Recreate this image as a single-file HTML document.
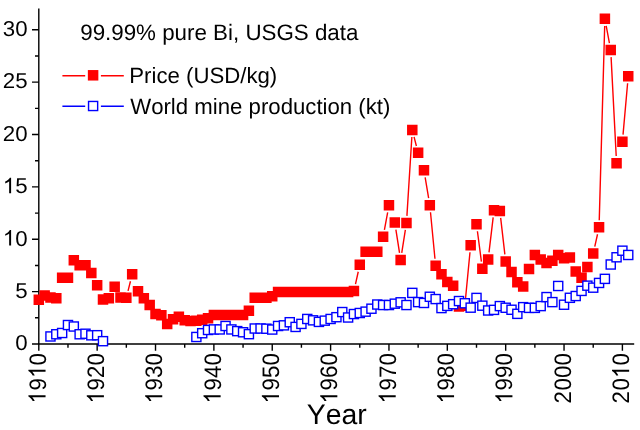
<!DOCTYPE html>
<html><head><meta charset="utf-8"><title>Bismuth price and production</title>
<style>
html,body{margin:0;padding:0;background:#fff;}
svg{display:block;font-family:"Liberation Sans",sans-serif;}
text{fill:#000;text-rendering:geometricPrecision;font-kerning:none;}
svg{-webkit-font-smoothing:antialiased;}
</style></head><body>
<svg width="640" height="430" viewBox="0 0 640 430">
<rect width="640" height="430" fill="#fff"/>
<path d="M38.8 8.4V344.0M32 344.0H634.2" stroke="#000" stroke-width="1.4" fill="none"/>
<path d="M32 291.63H38.8M32 239.27H38.8M32 186.91H38.8M32 134.54H38.8M32 82.17H38.8M32 29.81H38.8M35 317.82H38.8M35 265.45H38.8M35 213.09H38.8M35 160.72H38.8M35 108.36H38.8M35 55.99H38.8M38.80 344.0V350.8M97.16 344.0V350.8M155.52 344.0V350.8M213.88 344.0V350.8M272.24 344.0V350.8M330.60 344.0V350.8M388.96 344.0V350.8M447.32 344.0V350.8M505.68 344.0V350.8M564.04 344.0V350.8M622.40 344.0V350.8M67.98 344.0V347.8M126.34 344.0V347.8M184.70 344.0V347.8M243.06 344.0V347.8M301.42 344.0V347.8M359.78 344.0V347.8M418.14 344.0V347.8M476.50 344.0V347.8M534.86 344.0V347.8M593.22 344.0V347.8" stroke="#000" stroke-width="1.4" fill="none"/>
<g opacity="0.999">
<g transform="translate(27.60,350.30) scale(1,0.967)" font-size="22.3"><text x="-12.40" y="0">0</text></g>
<g transform="translate(27.60,297.94) scale(1,0.967)" font-size="22.3"><text x="-12.40" y="0">5</text></g>
<g transform="translate(27.60,245.57) scale(1,0.967)" font-size="22.3"><path transform="translate(-24.80,0) scale(0.01089,-0.01089)" d="M763 0H583V1147Q518 1085 412.5 1023T223 930V1104Q374 1175 487 1276T647 1472H763Z"/><text x="-12.40" y="0">0</text></g>
<g transform="translate(27.60,193.21) scale(1,0.967)" font-size="22.3"><path transform="translate(-24.80,0) scale(0.01089,-0.01089)" d="M763 0H583V1147Q518 1085 412.5 1023T223 930V1104Q374 1175 487 1276T647 1472H763Z"/><text x="-12.40" y="0">5</text></g>
<g transform="translate(27.60,140.84) scale(1,0.967)" font-size="22.3"><text x="-24.80" y="0">2</text><text x="-12.40" y="0">0</text></g>
<g transform="translate(27.60,88.47) scale(1,0.967)" font-size="22.3"><text x="-24.80" y="0">2</text><text x="-12.40" y="0">5</text></g>
<g transform="translate(27.60,36.11) scale(1,0.967)" font-size="22.3"><text x="-24.80" y="0">3</text><text x="-12.40" y="0">0</text></g>
<g transform="translate(45.55,402.80) rotate(-90) scale(1,1.07)" font-size="22.3"><path transform="translate(-0.70,0) scale(0.01089,-0.01089)" d="M763 0H583V1147Q518 1085 412.5 1023T223 930V1104Q374 1175 487 1276T647 1472H763Z"/><text x="12.40" y="0">9</text><path transform="translate(24.80,0) scale(0.01089,-0.01089)" d="M763 0H583V1147Q518 1085 412.5 1023T223 930V1104Q374 1175 487 1276T647 1472H763Z"/><text x="37.21" y="0">0</text></g>
<g transform="translate(103.91,402.80) rotate(-90) scale(1,1.07)" font-size="22.3"><path transform="translate(-0.70,0) scale(0.01089,-0.01089)" d="M763 0H583V1147Q518 1085 412.5 1023T223 930V1104Q374 1175 487 1276T647 1472H763Z"/><text x="12.40" y="0">9</text><text x="24.80" y="0">2</text><text x="37.21" y="0">0</text></g>
<g transform="translate(162.27,402.80) rotate(-90) scale(1,1.07)" font-size="22.3"><path transform="translate(-0.70,0) scale(0.01089,-0.01089)" d="M763 0H583V1147Q518 1085 412.5 1023T223 930V1104Q374 1175 487 1276T647 1472H763Z"/><text x="12.40" y="0">9</text><text x="24.80" y="0">3</text><text x="37.21" y="0">0</text></g>
<g transform="translate(220.63,402.80) rotate(-90) scale(1,1.07)" font-size="22.3"><path transform="translate(-0.70,0) scale(0.01089,-0.01089)" d="M763 0H583V1147Q518 1085 412.5 1023T223 930V1104Q374 1175 487 1276T647 1472H763Z"/><text x="12.40" y="0">9</text><text x="24.80" y="0">4</text><text x="37.21" y="0">0</text></g>
<g transform="translate(278.99,402.80) rotate(-90) scale(1,1.07)" font-size="22.3"><path transform="translate(-0.70,0) scale(0.01089,-0.01089)" d="M763 0H583V1147Q518 1085 412.5 1023T223 930V1104Q374 1175 487 1276T647 1472H763Z"/><text x="12.40" y="0">9</text><text x="24.80" y="0">5</text><text x="37.21" y="0">0</text></g>
<g transform="translate(337.35,402.80) rotate(-90) scale(1,1.07)" font-size="22.3"><path transform="translate(-0.70,0) scale(0.01089,-0.01089)" d="M763 0H583V1147Q518 1085 412.5 1023T223 930V1104Q374 1175 487 1276T647 1472H763Z"/><text x="12.40" y="0">9</text><text x="24.80" y="0">6</text><text x="37.21" y="0">0</text></g>
<g transform="translate(395.71,402.80) rotate(-90) scale(1,1.07)" font-size="22.3"><path transform="translate(-0.70,0) scale(0.01089,-0.01089)" d="M763 0H583V1147Q518 1085 412.5 1023T223 930V1104Q374 1175 487 1276T647 1472H763Z"/><text x="12.40" y="0">9</text><text x="24.80" y="0">7</text><text x="37.21" y="0">0</text></g>
<g transform="translate(454.07,402.80) rotate(-90) scale(1,1.07)" font-size="22.3"><path transform="translate(-0.70,0) scale(0.01089,-0.01089)" d="M763 0H583V1147Q518 1085 412.5 1023T223 930V1104Q374 1175 487 1276T647 1472H763Z"/><text x="12.40" y="0">9</text><text x="24.80" y="0">8</text><text x="37.21" y="0">0</text></g>
<g transform="translate(512.43,402.80) rotate(-90) scale(1,1.07)" font-size="22.3"><path transform="translate(-0.70,0) scale(0.01089,-0.01089)" d="M763 0H583V1147Q518 1085 412.5 1023T223 930V1104Q374 1175 487 1276T647 1472H763Z"/><text x="12.40" y="0">9</text><text x="24.80" y="0">9</text><text x="37.21" y="0">0</text></g>
<g transform="translate(570.79,402.80) rotate(-90) scale(1,1.07)" font-size="22.3"><text x="-0.70" y="0">2</text><text x="12.40" y="0">0</text><text x="24.80" y="0">0</text><text x="37.21" y="0">0</text></g>
<g transform="translate(629.15,402.80) rotate(-90) scale(1,1.07)" font-size="22.3"><text x="-0.70" y="0">2</text><text x="12.40" y="0">0</text><path transform="translate(24.80,0) scale(0.01089,-0.01089)" d="M763 0H583V1147Q518 1085 412.5 1023T223 930V1104Q374 1175 487 1276T647 1472H763Z"/><text x="37.21" y="0">0</text></g>
<text transform="translate(306.80,423.60) scale(1,1.0)" text-anchor="start" font-size="28.4">Year</text>
<text transform="translate(80.20,40.30) scale(1,1.0)" text-anchor="start" font-size="22.35">99.99% pure Bi, USGS data</text>
<text transform="translate(129.30,83.00) scale(1,1.0)" text-anchor="start" font-size="22.2">Price (USD/kg)</text>
<text transform="translate(130.20,113.50) scale(1,1.0)" text-anchor="start" font-size="22.2">World mine production (kt)</text>
</g>
<path d="M62.4 75.7H85.2M100.9 75.7H123.8" stroke="#f00" stroke-width="1.4"/>
<rect x="87.85" y="70.05" width="10.5" height="10.5" fill="#f00"/>
<path d="M62.4 106.3H85.2M100.9 106.3H123.8" stroke="#00f" stroke-width="1.4"/>
<rect x="88.55" y="101.45" width="9.1" height="9.1" fill="#fff" stroke="#00f" stroke-width="1.4"/>
<path d="M128.05 290.92L130.46 281.24M355.48 284.18L358.24 271.76M384.42 229.78L387.66 212.32M395.89 229.53L399.54 252.89M401.74 252.89L405.36 229.95M406.91 215.85L411.86 137.02M414.05 136.81L416.39 145.99M425.15 177.36L428.64 198.23M430.49 212.30L434.97 258.70M465.51 298.71L469.98 252.20M477.42 231.23L481.41 261.66M489.01 252.43L493.17 217.41M500.66 217.94L504.87 254.42M594.76 246.69L597.52 234.26M599.25 220.23L604.69 25.91M606.20 25.79L609.42 43.04M611.09 57.11L616.20 156.04M623.03 134.59L627.61 83.28" stroke="#f00" stroke-width="1.4" fill="none"/>
<path d="M33.55 294.55h10.5v10.5h-10.5zM39.39 290.16h10.5v10.5h-10.5zM45.22 292.15h10.5v10.5h-10.5zM51.06 293.09h10.5v10.5h-10.5zM56.89 272.46h10.5v10.5h-10.5zM62.73 272.46h10.5v10.5h-10.5zM68.57 255.07h10.5v10.5h-10.5zM74.40 260.10h10.5v10.5h-10.5zM80.24 260.10h10.5v10.5h-10.5zM86.07 267.85h10.5v10.5h-10.5zM91.91 280.10h10.5v10.5h-10.5zM97.75 294.14h10.5v10.5h-10.5zM103.58 293.09h10.5v10.5h-10.5zM109.42 281.46h10.5v10.5h-10.5zM115.25 292.15h10.5v10.5h-10.5zM121.09 292.56h10.5v10.5h-10.5zM126.93 269.10h10.5v10.5h-10.5zM132.76 286.07h10.5v10.5h-10.5zM138.60 293.09h10.5v10.5h-10.5zM144.43 299.79h10.5v10.5h-10.5zM150.27 308.69h10.5v10.5h-10.5zM156.11 309.95h10.5v10.5h-10.5zM161.94 318.64h10.5v10.5h-10.5zM167.78 314.03h10.5v10.5h-10.5zM173.61 311.52h10.5v10.5h-10.5zM179.45 314.98h10.5v10.5h-10.5zM185.29 315.81h10.5v10.5h-10.5zM191.12 315.50h10.5v10.5h-10.5zM196.96 314.56h10.5v10.5h-10.5zM202.79 313.09h10.5v10.5h-10.5zM208.63 309.84h10.5v10.5h-10.5zM214.47 309.84h10.5v10.5h-10.5zM220.30 309.84h10.5v10.5h-10.5zM226.14 309.84h10.5v10.5h-10.5zM231.97 309.84h10.5v10.5h-10.5zM237.81 309.84h10.5v10.5h-10.5zM243.65 305.55h10.5v10.5h-10.5zM249.48 292.56h10.5v10.5h-10.5zM255.32 292.56h10.5v10.5h-10.5zM261.15 292.56h10.5v10.5h-10.5zM266.99 291.10h10.5v10.5h-10.5zM272.83 286.80h10.5v10.5h-10.5zM278.66 286.80h10.5v10.5h-10.5zM284.50 286.80h10.5v10.5h-10.5zM290.33 286.80h10.5v10.5h-10.5zM296.17 286.80h10.5v10.5h-10.5zM302.01 286.80h10.5v10.5h-10.5zM307.84 286.80h10.5v10.5h-10.5zM313.68 286.80h10.5v10.5h-10.5zM319.51 286.80h10.5v10.5h-10.5zM325.35 286.80h10.5v10.5h-10.5zM331.19 286.80h10.5v10.5h-10.5zM337.02 286.80h10.5v10.5h-10.5zM342.86 286.80h10.5v10.5h-10.5zM348.69 285.86h10.5v10.5h-10.5zM354.53 259.57h10.5v10.5h-10.5zM360.37 246.38h10.5v10.5h-10.5zM366.20 246.38h10.5v10.5h-10.5zM372.04 246.38h10.5v10.5h-10.5zM377.87 231.51h10.5v10.5h-10.5zM383.71 200.09h10.5v10.5h-10.5zM389.55 217.26h10.5v10.5h-10.5zM395.38 254.65h10.5v10.5h-10.5zM401.22 217.68h10.5v10.5h-10.5zM407.05 124.68h10.5v10.5h-10.5zM412.89 147.62h10.5v10.5h-10.5zM418.73 165.11h10.5v10.5h-10.5zM424.56 199.98h10.5v10.5h-10.5zM430.40 260.52h10.5v10.5h-10.5zM436.23 269.10h10.5v10.5h-10.5zM442.07 276.85h10.5v10.5h-10.5zM447.91 280.52h10.5v10.5h-10.5zM453.74 301.26h10.5v10.5h-10.5zM459.58 300.52h10.5v10.5h-10.5zM465.41 239.88h10.5v10.5h-10.5zM471.25 218.94h10.5v10.5h-10.5zM477.09 263.45h10.5v10.5h-10.5zM482.92 254.23h10.5v10.5h-10.5zM488.76 205.11h10.5v10.5h-10.5zM494.59 205.64h10.5v10.5h-10.5zM500.43 256.22h10.5v10.5h-10.5zM506.27 266.80h10.5v10.5h-10.5zM512.10 276.96h10.5v10.5h-10.5zM517.94 281.15h10.5v10.5h-10.5zM523.77 263.66h10.5v10.5h-10.5zM529.61 249.73h10.5v10.5h-10.5zM535.45 254.23h10.5v10.5h-10.5zM541.28 257.69h10.5v10.5h-10.5zM547.12 255.49h10.5v10.5h-10.5zM552.95 249.73h10.5v10.5h-10.5zM558.79 252.98h10.5v10.5h-10.5zM564.63 252.24h10.5v10.5h-10.5zM570.46 266.28h10.5v10.5h-10.5zM576.30 272.56h10.5v10.5h-10.5zM582.13 261.77h10.5v10.5h-10.5zM587.97 248.37h10.5v10.5h-10.5zM593.81 222.08h10.5v10.5h-10.5zM599.64 13.56h10.5v10.5h-10.5zM605.48 44.77h10.5v10.5h-10.5zM611.31 157.88h10.5v10.5h-10.5zM617.15 136.41h10.5v10.5h-10.5zM622.99 70.96h10.5v10.5h-10.5z" fill="#f00"/>
<path d="" stroke="#00f" stroke-width="1.4" fill="none"/>
<path d="" stroke="#00f" stroke-width="1.4" fill="none"/>
<g fill="#fff" stroke="#00f" stroke-width="1.4">
<rect x="45.92" y="331.91" width="9.1" height="9.1"/>
<rect x="51.76" y="329.71" width="9.1" height="9.1"/>
<rect x="57.59" y="328.45" width="9.1" height="9.1"/>
<rect x="63.43" y="320.49" width="9.1" height="9.1"/>
<rect x="69.27" y="321.96" width="9.1" height="9.1"/>
<rect x="75.10" y="329.71" width="9.1" height="9.1"/>
<rect x="80.94" y="329.19" width="9.1" height="9.1"/>
<rect x="86.77" y="330.76" width="9.1" height="9.1"/>
<rect x="92.61" y="330.65" width="9.1" height="9.1"/>
<rect x="98.45" y="336.62" width="9.1" height="9.1"/>
<rect x="191.82" y="332.43" width="9.1" height="9.1"/>
<rect x="197.66" y="328.66" width="9.1" height="9.1"/>
<rect x="203.49" y="325.42" width="9.1" height="9.1"/>
<rect x="209.33" y="324.89" width="9.1" height="9.1"/>
<rect x="215.17" y="324.89" width="9.1" height="9.1"/>
<rect x="221.00" y="321.44" width="9.1" height="9.1"/>
<rect x="226.84" y="324.89" width="9.1" height="9.1"/>
<rect x="232.67" y="326.57" width="9.1" height="9.1"/>
<rect x="238.51" y="327.72" width="9.1" height="9.1"/>
<rect x="244.35" y="329.61" width="9.1" height="9.1"/>
<rect x="250.18" y="323.95" width="9.1" height="9.1"/>
<rect x="256.02" y="323.95" width="9.1" height="9.1"/>
<rect x="261.85" y="324.16" width="9.1" height="9.1"/>
<rect x="267.69" y="325.00" width="9.1" height="9.1"/>
<rect x="273.53" y="321.44" width="9.1" height="9.1"/>
<rect x="279.36" y="320.81" width="9.1" height="9.1"/>
<rect x="285.20" y="317.67" width="9.1" height="9.1"/>
<rect x="291.03" y="322.38" width="9.1" height="9.1"/>
<rect x="296.87" y="319.34" width="9.1" height="9.1"/>
<rect x="302.71" y="314.42" width="9.1" height="9.1"/>
<rect x="308.54" y="315.78" width="9.1" height="9.1"/>
<rect x="314.38" y="317.35" width="9.1" height="9.1"/>
<rect x="320.21" y="316.10" width="9.1" height="9.1"/>
<rect x="326.05" y="314.42" width="9.1" height="9.1"/>
<rect x="331.89" y="312.64" width="9.1" height="9.1"/>
<rect x="337.72" y="307.51" width="9.1" height="9.1"/>
<rect x="343.56" y="312.95" width="9.1" height="9.1"/>
<rect x="349.39" y="309.50" width="9.1" height="9.1"/>
<rect x="355.23" y="308.45" width="9.1" height="9.1"/>
<rect x="361.07" y="307.09" width="9.1" height="9.1"/>
<rect x="366.90" y="304.16" width="9.1" height="9.1"/>
<rect x="372.74" y="299.97" width="9.1" height="9.1"/>
<rect x="378.57" y="300.49" width="9.1" height="9.1"/>
<rect x="384.41" y="300.49" width="9.1" height="9.1"/>
<rect x="390.25" y="299.13" width="9.1" height="9.1"/>
<rect x="396.08" y="297.77" width="9.1" height="9.1"/>
<rect x="401.92" y="300.49" width="9.1" height="9.1"/>
<rect x="407.75" y="288.34" width="9.1" height="9.1"/>
<rect x="413.59" y="297.56" width="9.1" height="9.1"/>
<rect x="419.43" y="298.40" width="9.1" height="9.1"/>
<rect x="425.26" y="292.22" width="9.1" height="9.1"/>
<rect x="431.10" y="294.52" width="9.1" height="9.1"/>
<rect x="436.93" y="303.53" width="9.1" height="9.1"/>
<rect x="442.77" y="301.33" width="9.1" height="9.1"/>
<rect x="448.61" y="299.65" width="9.1" height="9.1"/>
<rect x="454.44" y="296.51" width="9.1" height="9.1"/>
<rect x="460.28" y="298.71" width="9.1" height="9.1"/>
<rect x="466.11" y="303.11" width="9.1" height="9.1"/>
<rect x="471.95" y="293.37" width="9.1" height="9.1"/>
<rect x="477.79" y="301.12" width="9.1" height="9.1"/>
<rect x="483.62" y="305.94" width="9.1" height="9.1"/>
<rect x="489.46" y="305.31" width="9.1" height="9.1"/>
<rect x="495.29" y="301.54" width="9.1" height="9.1"/>
<rect x="501.13" y="303.21" width="9.1" height="9.1"/>
<rect x="506.97" y="305.20" width="9.1" height="9.1"/>
<rect x="512.80" y="309.29" width="9.1" height="9.1"/>
<rect x="518.64" y="302.59" width="9.1" height="9.1"/>
<rect x="524.47" y="303.32" width="9.1" height="9.1"/>
<rect x="530.31" y="303.32" width="9.1" height="9.1"/>
<rect x="536.15" y="301.54" width="9.1" height="9.1"/>
<rect x="541.98" y="292.53" width="9.1" height="9.1"/>
<rect x="547.82" y="297.56" width="9.1" height="9.1"/>
<rect x="553.65" y="281.43" width="9.1" height="9.1"/>
<rect x="559.49" y="300.18" width="9.1" height="9.1"/>
<rect x="565.33" y="293.26" width="9.1" height="9.1"/>
<rect x="571.16" y="291.48" width="9.1" height="9.1"/>
<rect x="577.00" y="286.35" width="9.1" height="9.1"/>
<rect x="582.83" y="281.12" width="9.1" height="9.1"/>
<rect x="588.67" y="283.11" width="9.1" height="9.1"/>
<rect x="594.51" y="278.39" width="9.1" height="9.1"/>
<rect x="600.34" y="274.31" width="9.1" height="9.1"/>
<rect x="606.18" y="259.96" width="9.1" height="9.1"/>
<rect x="612.01" y="252.73" width="9.1" height="9.1"/>
<rect x="617.85" y="246.14" width="9.1" height="9.1"/>
<rect x="623.69" y="250.43" width="9.1" height="9.1"/>
</g>
</svg>
</body></html>
